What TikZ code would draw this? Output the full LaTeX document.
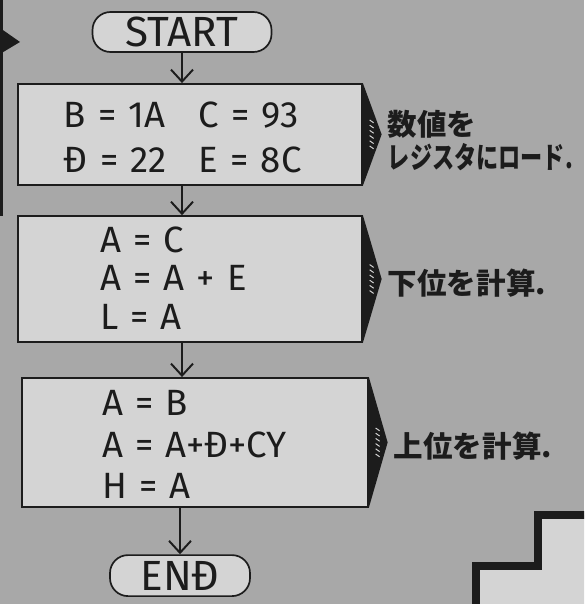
\documentclass[tikz,border=0pt]{standalone}
\usepackage{fontspec}
\setmainfont{Fira Sans}
\newfontfamily\jpfont{Noto Sans CJK JP}
\usetikzlibrary{positioning, arrows.meta, calc}
\definecolor{boardGray}{HTML}{A8A8A8}
\definecolor{paperGray}{HTML}{D4D4D4}
\definecolor{inkBlack}{HTML}{1C1C1C}

\tikzset{
  terminal/.style={draw=inkBlack, line width=1.2pt, fill=paperGray, rounded corners=0.45cm,
    minimum height=1cm, inner sep=0pt, font=\fontsize{30}{32}\selectfont, text=inkBlack},
  flowbox/.style={draw=inkBlack, line width=1.2pt, fill=paperGray, align=left, inner sep=0pt,
    font=\fontsize{26}{27.5}\selectfont, text=inkBlack},
  flow/.style={draw=inkBlack, line width=1.4pt, -{Straight Barb[length=0.3cm,width=0.55cm]}},
  note/.style={anchor=west, inner sep=0pt, align=left, text=inkBlack,
    font=\jpfont\bfseries\fontsize{21}{24}\selectfont},
}
% move the lines of a box down without changing its size
\newcommand{\dropby}[2]{\raisebox{0pt}[\dimexpr\height+#1\relax][\dimexpr\depth-#1\relax]{#2}}

\begin{document}
\begin{tikzpicture}
  % board
  \useasboundingbox (0,0) rectangle (14.6,-15.1);
  \clip (0,0) rectangle (14.6,-15.1);
  \fill[boardGray] (0,0) rectangle (14.6,-15.1);
  % left edge and stepped shape
  \draw[inkBlack, line width=2pt] (0.03,0.1) -- (0.03,-5.4);
  \fill[inkBlack] (0,-0.7) -- (0.5,-1.05) -- (0,-1.35) -- cycle;
  \filldraw[fill=paperGray, draw=inkBlack, line width=0.2cm]
    (11.9,-15.5) -- (11.9,-14.15) -- (13.45,-14.15) -- (13.45,-12.875)
    -- (15,-12.875) -- (15,-15.5) -- cycle;

  % flowchart
  \node[terminal, minimum width=4.475cm] (start) at (4.55,-0.8) {START};
  \node[flowbox, text width=8.6cm, minimum height=2.525cm] (load) at (4.75,-3.36)
    {\hspace*{1.15cm}\dropby{0.2cm}{\begin{tabular}{@{}l@{\hspace{0.8cm}}l@{}}B = 1A & C = 93\\[5pt]
     Đ = 22 & E = 8C\end{tabular}}};
  \node[flowbox, text width=8.6cm, minimum height=3.15cm] (low) at (4.75,-6.975)
    {\hspace*{2.05cm}\dropby{0.1cm}{\begin{tabular}{@{}l@{}}A = C\\A = A + E\\L = A\end{tabular}}};
  \node[flowbox, text width=8.65cm, minimum height=3.225cm] (high) at (4.875,-11.06)
    {\hspace*{2cm}\dropby{0.18cm}{\begin{tabular}{@{}l@{}}A = B\\[2pt]A = A+Đ+CY\\[2pt]H = A\end{tabular}}};
  \node[terminal, minimum width=3.5cm, minimum height=1.025cm] (stop) at (4.5,-14.39) {ENĐ};

  \draw[flow] (start.south) -- (start.south |- load.north);
  \draw[flow] (load.south -| start.south) -- (low.north -| start.south);
  \draw[flow] (low.south -| start.south) -- (high.north -| start.south);
  \draw[flow] (high.south -| stop.north) -- (stop.north);

  % chevrons on the right
  \foreach \bx in {load,low,high} {
    \coordinate (\bx-tip) at ($(\bx.east)+(0.47,0)$);
    \fill[inkBlack] (\bx.north east) -- (\bx-tip) -- (\bx.south east) -- cycle;
    \foreach \k in {0,...,5}
      \draw[paperGray, line width=0.7pt] ($(\bx-tip)+(-0.3,0.36-\k*0.13)$) -- ++(0.1,-0.07);
  }

  % notes
  \node[note] (note1) at ($(load-tip)+(0.15,-0.15)$)
    {数値を\\\scalebox{0.75}[1]{レジスタにロード.}};
  \node[note] (note2) at ($(low-tip)+(0.15,-0.1)$) {下位を計算.};
  \node[note] (note3) at ($(high-tip)+(0.15,-0.1)$) {上位を計算.};
\end{tikzpicture}
\end{document}
